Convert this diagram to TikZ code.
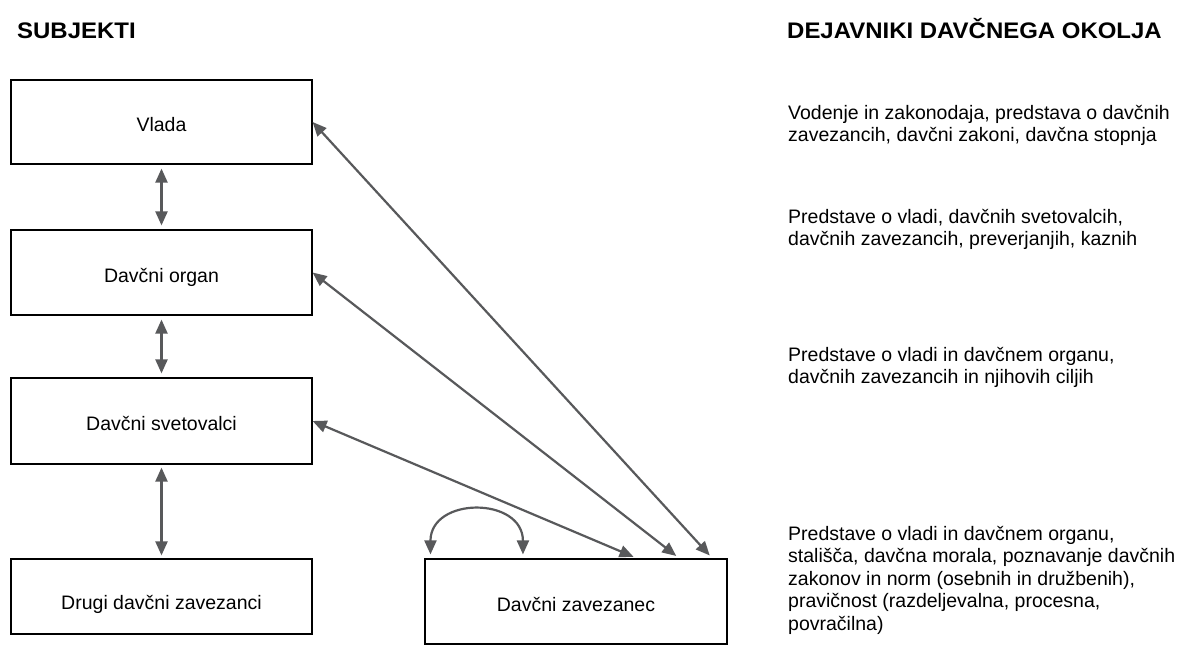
\documentclass[tikz,border=0pt]{standalone}
\usepackage{fontspec}
\setmainfont{Liberation Sans}
\usepackage{graphicx}
\usetikzlibrary{arrows.meta,calc}
\definecolor{arrc}{HTML}{58595B}
\newcommand\myBody{\fontsize{19.5}{22.5}\selectfont}
\newcommand\myHead{\fontsize{22.5}{27}\selectfont\bfseries}
\begin{document}
\begin{tikzpicture}[x=1pt,y=-1pt,
  box/.style={draw=black,line width=1.2pt,inner sep=0pt,minimum width=301pt,
    font=\myBody,text height=22pt,text depth=3pt},
  arr/.style={draw=arrc,line width=2.2pt,
    {Triangle[length=14pt,width=12pt]}-{Triangle[length=14pt,width=12pt]}},
  txt/.style={anchor=base west,align=left,inner sep=0pt,font=\myBody},
  head/.style={anchor=base west,inner sep=0pt,font=\myHead}]
\useasboundingbox[fill=white] (0,0) rectangle (1183,646);

% headings
\node[head] (h1) at (17,38) {\scalebox{1.065}[1]{SUBJEKTI}};
\node[head] (h2) at (787,38) {\scalebox{1.065}[1]{DEJAVNIKI DAVČNEGA OKOLJA}};

% boxes
\node[box,minimum height=84pt] (vlada) at (161.5,122) {Vlada};
\node[box,minimum height=85pt] (organ) at (161.5,272.5) {Davčni organ};
\node[box,minimum height=86pt] (svet) at (161.5,421) {Davčni svetovalci};
\node[box,minimum height=75pt,text height=28pt] (drugi) at (161.5,596.5) {Drugi davčni zavezanci};
\node[box,minimum width=302pt,minimum height=85pt] (zav) at (576,601.5) {Davčni zavezanec};

% endpoints on top of Davčni zavezanec
\coordinate (z1) at ($(zav.north west)!0.950!(zav.north east)$);
\coordinate (z2) at ($(zav.north west)!0.841!(zav.north east)$);
\coordinate (z3) at ($(zav.north west)!0.702!(zav.north east)$);
\coordinate (c1) at ($(zav.north west)!0.020!(zav.north east)$);
\coordinate (c2) at ($(zav.north west)!0.325!(zav.north east)$);

% vertical arrows
\draw[arr,shorten <=4pt,shorten >=4pt] (vlada.south) -- (organ.north);
\draw[arr,shorten <=4pt,shorten >=4pt] (organ.south) -- (svet.north);
\draw[arr,shorten <=3pt,shorten >=3pt] (svet.south) -- (drugi.north);

% diagonal arrows
\draw[arr,shorten >=4pt] (vlada.east) -- (z1);
\draw[arr,shorten >=4pt] (organ.east) -- (z2);
\draw[arr,shorten >=4pt] (svet.east) -- (z3);

% self arrow
\draw[arr,shorten <=4pt,shorten >=4pt] (c1) .. controls +(0,-62) and +(0,-62) .. (c2);

% right column (base anchor = baseline of last line)
\node[txt] (t1) at (788,141.5) {Vodenje in zakonodaja, predstava o davčnih\\zavezancih, davčni zakoni, davčna stopnja};
\node[txt] (t2) at (788,245.5) {Predstave o vladi, davčnih svetovalcih,\\davčnih zavezancih, preverjanjih, kaznih};
\node[txt] (t3) at (788,383.5) {Predstave o vladi in davčnem organu,\\davčnih zavezancih in njihovih ciljih};
\node[txt] (t4) at (788,630) {Predstave o vladi in davčnem organu,\\stališča, davčna morala, poznavanje davčnih\\zakonov in norm (osebnih in družbenih),\\pravičnost (razdeljevalna, procesna,\\povračilna)};
\end{tikzpicture}
\end{document}
